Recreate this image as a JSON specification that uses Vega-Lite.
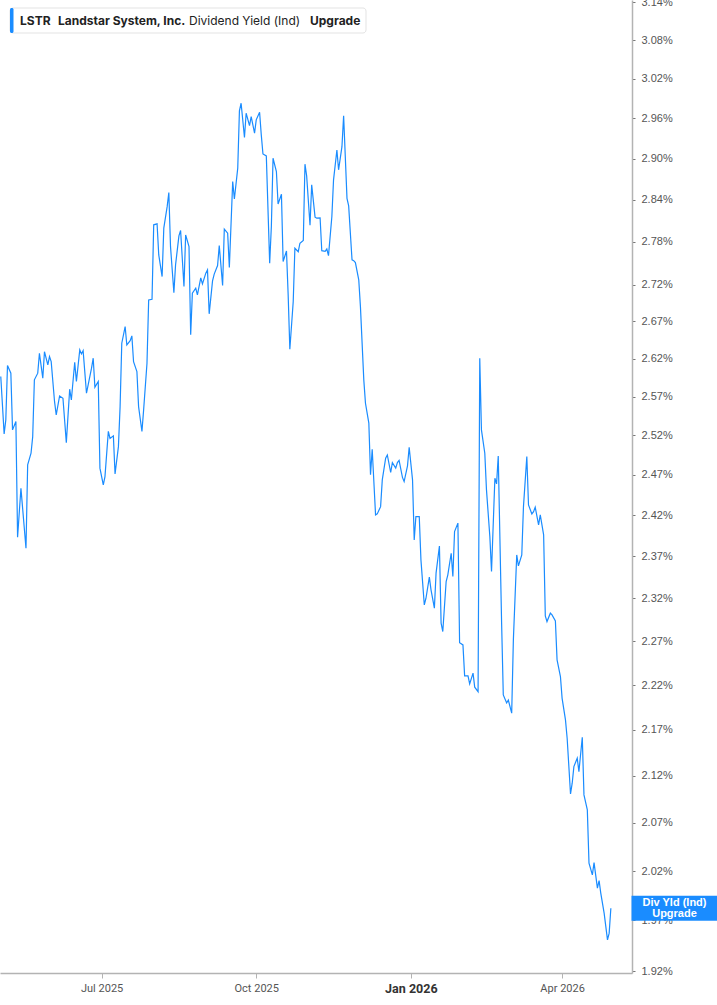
{
  "$schema": "https://vega.github.io/schema/vega-lite/v6.json",
  "width": 632,
  "height": 973,
  "autosize": {"type": "none"},
  "padding": {"left": 0, "top": 0, "right": 85, "bottom": 32},
  "background": "white",
  "config": {"view": {"stroke": null}},
  "datasets": {
    "yield": [
      {"date": "2025-05-02", "yield": 2.5963},
      {"date": "2025-05-04", "yield": 2.5219},
      {"date": "2025-05-05", "yield": 2.5399},
      {"date": "2025-05-06", "yield": 2.6109},
      {"date": "2025-05-08", "yield": 2.6008},
      {"date": "2025-05-09", "yield": 2.5270},
      {"date": "2025-05-11", "yield": 2.5377},
      {"date": "2025-05-12", "yield": 2.3930},
      {"date": "2025-05-14", "yield": 2.4533},
      {"date": "2025-05-17", "yield": 2.3796},
      {"date": "2025-05-18", "yield": 2.4825},
      {"date": "2025-05-20", "yield": 2.4972},
      {"date": "2025-05-21", "yield": 2.5184},
      {"date": "2025-05-22", "yield": 2.5920},
      {"date": "2025-05-24", "yield": 2.6008},
      {"date": "2025-05-25", "yield": 2.6272},
      {"date": "2025-05-27", "yield": 2.5942},
      {"date": "2025-05-28", "yield": 2.6293},
      {"date": "2025-05-30", "yield": 2.6118},
      {"date": "2025-05-31", "yield": 2.6227},
      {"date": "2025-06-01", "yield": 2.6161},
      {"date": "2025-06-03", "yield": 2.5634},
      {"date": "2025-06-04", "yield": 2.5463},
      {"date": "2025-06-06", "yield": 2.5709},
      {"date": "2025-06-08", "yield": 2.5679},
      {"date": "2025-06-10", "yield": 2.5107},
      {"date": "2025-06-12", "yield": 2.5797},
      {"date": "2025-06-13", "yield": 2.5656},
      {"date": "2025-06-15", "yield": 2.6153},
      {"date": "2025-06-16", "yield": 2.5898},
      {"date": "2025-06-18", "yield": 2.6316},
      {"date": "2025-06-19", "yield": 2.6263},
      {"date": "2025-06-20", "yield": 2.6306},
      {"date": "2025-06-22", "yield": 2.5745},
      {"date": "2025-06-23", "yield": 2.5854},
      {"date": "2025-06-25", "yield": 2.6074},
      {"date": "2025-06-26", "yield": 2.6206},
      {"date": "2025-06-27", "yield": 2.5824},
      {"date": "2025-06-29", "yield": 2.5898},
      {"date": "2025-06-30", "yield": 2.4784},
      {"date": "2025-07-02", "yield": 2.4574},
      {"date": "2025-07-03", "yield": 2.4678},
      {"date": "2025-07-05", "yield": 2.5251},
      {"date": "2025-07-06", "yield": 2.5161},
      {"date": "2025-07-08", "yield": 2.5193},
      {"date": "2025-07-09", "yield": 2.4712},
      {"date": "2025-07-11", "yield": 2.5056},
      {"date": "2025-07-12", "yield": 2.5570},
      {"date": "2025-07-13", "yield": 2.6406},
      {"date": "2025-07-15", "yield": 2.6631},
      {"date": "2025-07-16", "yield": 2.6383},
      {"date": "2025-07-18", "yield": 2.6441},
      {"date": "2025-07-19", "yield": 2.6505},
      {"date": "2025-07-20", "yield": 2.6161},
      {"date": "2025-07-22", "yield": 2.6029},
      {"date": "2025-07-23", "yield": 2.5570},
      {"date": "2025-07-25", "yield": 2.5249},
      {"date": "2025-07-26", "yield": 2.5528},
      {"date": "2025-07-28", "yield": 2.6140},
      {"date": "2025-07-29", "yield": 2.6992},
      {"date": "2025-07-31", "yield": 2.7002},
      {"date": "2025-08-01", "yield": 2.8042},
      {"date": "2025-08-03", "yield": 2.8056},
      {"date": "2025-08-04", "yield": 2.7617},
      {"date": "2025-08-06", "yield": 2.7315},
      {"date": "2025-08-07", "yield": 2.7995},
      {"date": "2025-08-09", "yield": 2.8302},
      {"date": "2025-08-10", "yield": 2.8504},
      {"date": "2025-08-11", "yield": 2.7733},
      {"date": "2025-08-13", "yield": 2.7093},
      {"date": "2025-08-14", "yield": 2.7478},
      {"date": "2025-08-16", "yield": 2.7885},
      {"date": "2025-08-17", "yield": 2.7961},
      {"date": "2025-08-19", "yield": 2.7177},
      {"date": "2025-08-20", "yield": 2.7899},
      {"date": "2025-08-22", "yield": 2.7733},
      {"date": "2025-08-23", "yield": 2.6519},
      {"date": "2025-08-24", "yield": 2.7085},
      {"date": "2025-08-26", "yield": 2.7154},
      {"date": "2025-08-27", "yield": 2.7062},
      {"date": "2025-08-29", "yield": 2.7297},
      {"date": "2025-08-30", "yield": 2.7214},
      {"date": "2025-09-01", "yield": 2.7363},
      {"date": "2025-09-02", "yield": 2.7408},
      {"date": "2025-09-03", "yield": 2.6803},
      {"date": "2025-09-05", "yield": 2.7256},
      {"date": "2025-09-06", "yield": 2.7349},
      {"date": "2025-09-08", "yield": 2.7468},
      {"date": "2025-09-09", "yield": 2.7747},
      {"date": "2025-09-11", "yield": 2.7191},
      {"date": "2025-09-12", "yield": 2.7981},
      {"date": "2025-09-14", "yield": 2.7924},
      {"date": "2025-09-15", "yield": 2.7440},
      {"date": "2025-09-17", "yield": 2.8665},
      {"date": "2025-09-18", "yield": 2.8412},
      {"date": "2025-09-20", "yield": 2.8860},
      {"date": "2025-09-21", "yield": 2.9711},
      {"date": "2025-09-22", "yield": 2.9827},
      {"date": "2025-09-24", "yield": 2.9312},
      {"date": "2025-09-25", "yield": 2.9677},
      {"date": "2025-09-27", "yield": 2.9491},
      {"date": "2025-09-28", "yield": 2.9626},
      {"date": "2025-09-30", "yield": 2.9378},
      {"date": "2025-10-01", "yield": 2.9577},
      {"date": "2025-10-03", "yield": 2.9692},
      {"date": "2025-10-04", "yield": 2.9352},
      {"date": "2025-10-05", "yield": 2.9069},
      {"date": "2025-10-07", "yield": 2.9040},
      {"date": "2025-10-09", "yield": 2.7501},
      {"date": "2025-10-10", "yield": 2.8018},
      {"date": "2025-10-11", "yield": 2.9006},
      {"date": "2025-10-13", "yield": 2.8811},
      {"date": "2025-10-14", "yield": 2.8341},
      {"date": "2025-10-16", "yield": 2.8481},
      {"date": "2025-10-17", "yield": 2.7524},
      {"date": "2025-10-19", "yield": 2.7672},
      {"date": "2025-10-20", "yield": 2.7062},
      {"date": "2025-10-21", "yield": 2.6325},
      {"date": "2025-10-23", "yield": 2.6969},
      {"date": "2025-10-24", "yield": 2.7710},
      {"date": "2025-10-26", "yield": 2.7662},
      {"date": "2025-10-27", "yield": 2.7781},
      {"date": "2025-10-29", "yield": 2.7821},
      {"date": "2025-10-30", "yield": 2.8919},
      {"date": "2025-10-31", "yield": 2.8748},
      {"date": "2025-11-02", "yield": 2.8037},
      {"date": "2025-11-03", "yield": 2.8617},
      {"date": "2025-11-05", "yield": 2.8151},
      {"date": "2025-11-06", "yield": 2.8137},
      {"date": "2025-11-08", "yield": 2.8142},
      {"date": "2025-11-09", "yield": 2.7676},
      {"date": "2025-11-11", "yield": 2.7668},
      {"date": "2025-11-12", "yield": 2.7700},
      {"date": "2025-11-13", "yield": 2.7607},
      {"date": "2025-11-15", "yield": 2.8160},
      {"date": "2025-11-16", "yield": 2.8690},
      {"date": "2025-11-18", "yield": 2.9128},
      {"date": "2025-11-19", "yield": 2.8836},
      {"date": "2025-11-21", "yield": 2.9177},
      {"date": "2025-11-22", "yield": 2.9637},
      {"date": "2025-11-24", "yield": 2.8422},
      {"date": "2025-11-25", "yield": 2.8312},
      {"date": "2025-11-27", "yield": 2.7547},
      {"date": "2025-11-28", "yield": 2.7537},
      {"date": "2025-11-29", "yield": 2.7510},
      {"date": "2025-12-01", "yield": 2.7270},
      {"date": "2025-12-02", "yield": 2.6901},
      {"date": "2025-12-04", "yield": 2.5920},
      {"date": "2025-12-05", "yield": 2.5614},
      {"date": "2025-12-07", "yield": 2.5357},
      {"date": "2025-12-08", "yield": 2.4700},
      {"date": "2025-12-09", "yield": 2.5022},
      {"date": "2025-12-11", "yield": 2.4203},
      {"date": "2025-12-12", "yield": 2.4215},
      {"date": "2025-12-14", "yield": 2.4304},
      {"date": "2025-12-15", "yield": 2.4637},
      {"date": "2025-12-17", "yield": 2.4909},
      {"date": "2025-12-18", "yield": 2.4950},
      {"date": "2025-12-20", "yield": 2.4729},
      {"date": "2025-12-21", "yield": 2.4854},
      {"date": "2025-12-23", "yield": 2.4784},
      {"date": "2025-12-24", "yield": 2.4854},
      {"date": "2025-12-25", "yield": 2.4882},
      {"date": "2025-12-27", "yield": 2.4668},
      {"date": "2025-12-28", "yield": 2.4616},
      {"date": "2025-12-30", "yield": 2.4813},
      {"date": "2025-12-31", "yield": 2.5048},
      {"date": "2026-01-02", "yield": 2.4637},
      {"date": "2026-01-03", "yield": 2.3897},
      {"date": "2026-01-04", "yield": 2.4182},
      {"date": "2026-01-06", "yield": 2.4182},
      {"date": "2026-01-07", "yield": 2.3656},
      {"date": "2026-01-09", "yield": 2.3121},
      {"date": "2026-01-10", "yield": 2.3200},
      {"date": "2026-01-12", "yield": 2.3450},
      {"date": "2026-01-13", "yield": 2.3299},
      {"date": "2026-01-15", "yield": 2.3083},
      {"date": "2026-01-16", "yield": 2.3498},
      {"date": "2026-01-18", "yield": 2.3824},
      {"date": "2026-01-19", "yield": 2.2909},
      {"date": "2026-01-20", "yield": 2.2811},
      {"date": "2026-01-22", "yield": 2.3397},
      {"date": "2026-01-23", "yield": 2.3477},
      {"date": "2026-01-25", "yield": 2.3736},
      {"date": "2026-01-26", "yield": 2.3457},
      {"date": "2026-01-27", "yield": 2.3999},
      {"date": "2026-01-29", "yield": 2.4102},
      {"date": "2026-01-30", "yield": 2.2683},
      {"date": "2026-02-01", "yield": 2.2657},
      {"date": "2026-02-02", "yield": 2.2304},
      {"date": "2026-02-04", "yield": 2.2304},
      {"date": "2026-02-05", "yield": 2.2213},
      {"date": "2026-02-07", "yield": 2.2335},
      {"date": "2026-02-08", "yield": 2.2176},
      {"date": "2026-02-10", "yield": 2.2126},
      {"date": "2026-02-11", "yield": 2.6206},
      {"date": "2026-02-12", "yield": 2.5270},
      {"date": "2026-02-14", "yield": 2.4972},
      {"date": "2026-02-15", "yield": 2.4512},
      {"date": "2026-02-17", "yield": 2.3938},
      {"date": "2026-02-18", "yield": 2.3517},
      {"date": "2026-02-20", "yield": 2.4658},
      {"date": "2026-02-21", "yield": 2.4587},
      {"date": "2026-02-22", "yield": 2.4938},
      {"date": "2026-02-24", "yield": 2.2909},
      {"date": "2026-02-25", "yield": 2.2089},
      {"date": "2026-02-27", "yield": 2.1999},
      {"date": "2026-02-28", "yield": 2.2032},
      {"date": "2026-03-02", "yield": 2.1885},
      {"date": "2026-03-03", "yield": 2.2715},
      {"date": "2026-03-05", "yield": 2.3716},
      {"date": "2026-03-06", "yield": 2.3585},
      {"date": "2026-03-08", "yield": 2.3716},
      {"date": "2026-03-09", "yield": 2.4304},
      {"date": "2026-03-11", "yield": 2.4929},
      {"date": "2026-03-12", "yield": 2.4325},
      {"date": "2026-03-14", "yield": 2.4215},
      {"date": "2026-03-15", "yield": 2.4243},
      {"date": "2026-03-16", "yield": 2.4297},
      {"date": "2026-03-18", "yield": 2.4081},
      {"date": "2026-03-19", "yield": 2.4203},
      {"date": "2026-03-21", "yield": 2.3959},
      {"date": "2026-03-22", "yield": 2.2994},
      {"date": "2026-03-23", "yield": 2.2927},
      {"date": "2026-03-25", "yield": 2.3025},
      {"date": "2026-03-26", "yield": 2.3005},
      {"date": "2026-03-28", "yield": 2.2935},
      {"date": "2026-03-29", "yield": 2.2485},
      {"date": "2026-03-31", "yield": 2.2296},
      {"date": "2026-04-01", "yield": 2.2051},
      {"date": "2026-04-03", "yield": 2.1811},
      {"date": "2026-04-04", "yield": 2.1609},
      {"date": "2026-04-06", "yield": 2.1006},
      {"date": "2026-04-07", "yield": 2.1121},
      {"date": "2026-04-08", "yield": 2.1300},
      {"date": "2026-04-10", "yield": 2.1391},
      {"date": "2026-04-11", "yield": 2.1246},
      {"date": "2026-04-13", "yield": 2.1620},
      {"date": "2026-04-14", "yield": 2.0996},
      {"date": "2026-04-16", "yield": 2.0837},
      {"date": "2026-04-17", "yield": 2.0281},
      {"date": "2026-04-19", "yield": 2.0161},
      {"date": "2026-04-20", "yield": 2.0287},
      {"date": "2026-04-22", "yield": 2.0025},
      {"date": "2026-04-23", "yield": 2.0103},
      {"date": "2026-04-24", "yield": 1.9974},
      {"date": "2026-04-26", "yield": 1.9773},
      {"date": "2026-04-28", "yield": 1.9506},
      {"date": "2026-04-29", "yield": 1.9573},
      {"date": "2026-04-30", "yield": 1.9822}
    ]
  },
  "layer": [
    {
      "data": {"name": "yield"},
      "mark": {"type": "line", "color": "#1a8cff", "strokeWidth": 1.2},
      "encoding": {
        "x": {
          "field": "date",
          "type": "temporal",
          "scale": {
            "type": "utc",
            "domain": [
              {"year": 2025, "month": 5, "date": 1, "hours": 13, "utc": true},
              {"year": 2026, "month": 5, "date": 12, "hours": 14, "utc": true}
            ]
          },
          "axis": {
            "orient": "bottom",
            "title": null,
            "grid": false,
            "values": [
              {"year": 2025, "month": 7, "date": 1, "utc": true},
              {"year": 2025, "month": 10, "date": 1, "utc": true},
              {"year": 2026, "month": 1, "date": 1, "utc": true},
              {"year": 2026, "month": 4, "date": 1, "utc": true}
            ],
            "labelExpr": "utcFormat(datum.value, '%b %Y')",
            "domainColor": "#b3b3b3",
            "domainWidth": 1.5,
            "tickColor": "#b3b3b3",
            "tickSize": 5,
            "tickWidth": 1,
            "labelFont": "Roboto",
            "labelFontSize": {"condition": {"test": "utcmonth(datum.value) == 0", "value": 12.5}, "value": 11},
            "labelFontWeight": {"condition": {"test": "utcmonth(datum.value) == 0", "value": "bold"}, "value": "normal"},
            "labelColor": {"condition": {"test": "utcmonth(datum.value) == 0", "value": "#333333"}, "value": "#555555"},
            "labelPadding": 4
          }
        },
        "y": {
          "field": "yield",
          "type": "quantitative",
          "scale": {"type": "log", "domain": [1.9181, 3.1432], "nice": false, "zero": false},
          "axis": {
            "orient": "right",
            "title": null,
            "grid": false,
            "values": [1.92, 1.97, 2.02, 2.07, 2.12, 2.17, 2.22, 2.27, 2.32, 2.37, 2.42, 2.47, 2.52, 2.57, 2.62, 2.67, 2.72, 2.78, 2.84, 2.90, 2.96, 3.02, 3.08, 3.14],
            "labelExpr": "format(datum.value, '.2f') + '%'",
            "domainColor": "#b3b3b3",
            "domainWidth": 1.5,
            "tickColor": "#777777",
            "tickSize": 3,
            "labelFont": "Liberation Sans",
            "labelFontSize": 11,
            "labelColor": "#555555",
            "labelPadding": 6,
            "labelOverlap": false,
            "labelBound": false,
            "labelFlush": false
          }
        }
      }
    },
    {
      "data": {"name": "yield"},
      "transform": [
        {"joinaggregate": [{"op": "max", "field": "date", "as": "maxd"}]},
        {"filter": "time(datum.date) >= time(datum.maxd)"}
      ],
      "mark": {"type": "tick", "orient": "horizontal", "size": 86, "thickness": 25, "color": "#1a8cff", "opacity": 1},
      "encoding": {
        "x": {"value": 674.5},
        "y": {"field": "yield", "type": "quantitative"}
      }
    },
    {
      "data": {"name": "yield"},
      "transform": [
        {"joinaggregate": [{"op": "max", "field": "date", "as": "maxd"}]},
        {"filter": "time(datum.date) >= time(datum.maxd)"}
      ],
      "mark": {"type": "text", "text": ["Div Yld (Ind)", "Upgrade"], "font": "Liberation Sans", "fontSize": 11, "fontWeight": "bold", "color": "white", "align": "center", "baseline": "middle", "lineHeight": 11, "dy": -5.5},
      "encoding": {
        "x": {"value": 674.5},
        "y": {"field": "yield", "type": "quantitative"}
      }
    },
    {
      "data": {"values": [{}]},
      "mark": {"type": "rect", "fill": "white", "stroke": "#e3e3e3", "strokeWidth": 1, "cornerRadius": 3},
      "encoding": {"x": {"value": 10}, "x2": {"value": 366}, "y": {"value": 8}, "y2": {"value": 33}}
    },
    {
      "data": {"values": [{}]},
      "mark": {"type": "rect", "fill": "#1a8cff", "cornerRadius": 1.5},
      "encoding": {"x": {"value": 10}, "x2": {"value": 13.5}, "y": {"value": 8}, "y2": {"value": 33}}
    },
    {
      "data": {"values": [{}]},
      "mark": {"type": "text", "text": "LSTR", "font": "Inter", "fontSize": 12, "fontWeight": "bold", "color": "#222222", "align": "left", "baseline": "alphabetic"},
      "encoding": {"x": {"value": 20}, "y": {"value": 25}}
    },
    {
      "data": {"values": [{}]},
      "mark": {"type": "text", "text": "Landstar System, Inc.", "font": "Inter", "fontSize": 12, "fontWeight": "bold", "color": "#222222", "align": "left", "baseline": "alphabetic"},
      "encoding": {"x": {"value": 58}, "y": {"value": 25}}
    },
    {
      "data": {"values": [{}]},
      "mark": {"type": "text", "text": "Dividend Yield (Ind)", "font": "Inter", "fontSize": 12, "fontWeight": "normal", "color": "#222222", "align": "left", "baseline": "alphabetic"},
      "encoding": {"x": {"value": 189}, "y": {"value": 25}}
    },
    {
      "data": {"values": [{}]},
      "mark": {"type": "text", "text": "Upgrade", "font": "Inter", "fontSize": 12, "fontWeight": "bold", "color": "#222222", "align": "left", "baseline": "alphabetic"},
      "encoding": {"x": {"value": 310}, "y": {"value": 25}}
    }
  ]
}
